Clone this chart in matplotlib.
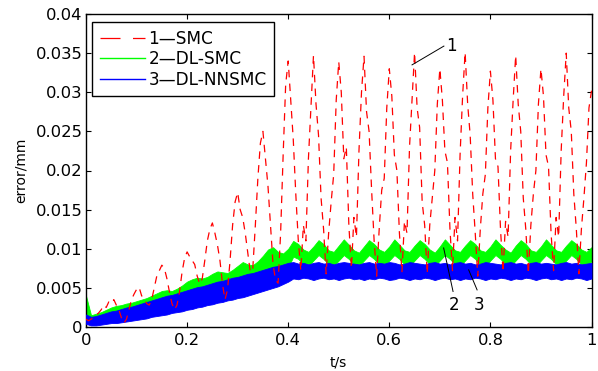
import numpy as np
import matplotlib
matplotlib.use("Agg")
import matplotlib.pyplot as plt
from matplotlib.lines import Line2D

plt.rcParams['font.family'] = ['DejaVu Sans']

# ---------------- data ----------------
series_names = ["1\u2014SMC", "2\u2014DL-SMC", "3\u2014DL-NNSMC"]

# envelope sample times for the dense (high-frequency) green / blue curves
t_env = np.round(np.arange(0, 1.0001, 0.01), 2)

green_hi = [0.0040, 0.0015, 0.0017, 0.0019, 0.0022, 0.0025, 0.0027, 0.0028, 0.0030, 0.0031, 0.0033,
            0.0035, 0.0037, 0.0040, 0.0043, 0.0046, 0.0047, 0.0046, 0.0049, 0.0053, 0.0058,
            0.0061, 0.0063, 0.0062, 0.0064, 0.0068, 0.0071, 0.0070, 0.0069, 0.0073, 0.0078,
            0.0083, 0.0080, 0.0079, 0.0084, 0.0091, 0.0099, 0.0102, 0.0096, 0.0094, 0.0100,
            0.0110,
            0.0106, 0.0099, 0.0096, 0.0103, 0.0111,
            0.0106, 0.0098, 0.0096, 0.0104, 0.0112,
            0.0105, 0.0098, 0.0095, 0.0103, 0.0111,
            0.0106, 0.0099, 0.0096, 0.0103, 0.0112,
            0.0105, 0.0098, 0.0096, 0.0104, 0.0111,
            0.0106, 0.0099, 0.0095, 0.0103, 0.0112,
            0.0105, 0.0098, 0.0096, 0.0104, 0.0111,
            0.0106, 0.0098, 0.0096, 0.0103, 0.0112,
            0.0105, 0.0099, 0.0095, 0.0104, 0.0111,
            0.0106, 0.0098, 0.0096, 0.0103, 0.0112,
            0.0105, 0.0098, 0.0096, 0.0104, 0.0111,
            0.0106, 0.0099, 0.0096, 0.0102]

green_lo = [0.0010, 0.0006, 0.0006, 0.0007, 0.0008, 0.0009, 0.0010, 0.0011, 0.0012, 0.0013, 0.0014,
            0.0015, 0.0016, 0.0018, 0.0019, 0.0021, 0.0022, 0.0023, 0.0025, 0.0027, 0.0029,
            0.0031, 0.0033, 0.0034, 0.0036, 0.0038, 0.0040, 0.0042, 0.0043, 0.0045, 0.0047,
            0.0049, 0.0051, 0.0053, 0.0055, 0.0058, 0.0062, 0.0066, 0.0068, 0.0070, 0.0076,
            0.0090,
            0.0087, 0.0080, 0.0078, 0.0085, 0.0092,
            0.0087, 0.0080, 0.0078, 0.0085, 0.0092,
            0.0087, 0.0080, 0.0078, 0.0085, 0.0092,
            0.0087, 0.0080, 0.0078, 0.0085, 0.0092,
            0.0087, 0.0080, 0.0078, 0.0085, 0.0092,
            0.0087, 0.0080, 0.0078, 0.0085, 0.0092,
            0.0087, 0.0080, 0.0078, 0.0085, 0.0092,
            0.0087, 0.0080, 0.0078, 0.0085, 0.0092,
            0.0087, 0.0080, 0.0078, 0.0085, 0.0092,
            0.0087, 0.0080, 0.0078, 0.0085, 0.0092,
            0.0087, 0.0080, 0.0078, 0.0085, 0.0092,
            0.0087, 0.0080, 0.0078, 0.0084]

blue_hi = [0.0016, 0.0013, 0.0014, 0.0016, 0.0018, 0.0020, 0.0021, 0.0023, 0.0025, 0.0026, 0.0028,
           0.0030, 0.0032, 0.0034, 0.0036, 0.0038, 0.0040, 0.0041, 0.0043, 0.0045, 0.0047,
           0.0049, 0.0051, 0.0052, 0.0054, 0.0056, 0.0058, 0.0059, 0.0061, 0.0063, 0.0064,
           0.0066, 0.0068, 0.0069, 0.0071, 0.0073, 0.0075, 0.0077, 0.0078, 0.0080, 0.0082,
           0.0083, 0.0081, 0.0082, 0.0080, 0.0082, 0.0083, 0.0081, 0.0082, 0.0080, 0.0082,
           0.0083, 0.0082, 0.0081, 0.0080, 0.0082, 0.0083, 0.0081, 0.0082, 0.0081, 0.0083,
           0.0082, 0.0080, 0.0081, 0.0083, 0.0082, 0.0081, 0.0080, 0.0082, 0.0083, 0.0081,
           0.0082, 0.0080, 0.0082, 0.0083, 0.0081, 0.0082, 0.0080, 0.0081, 0.0083, 0.0082,
           0.0081, 0.0080, 0.0082, 0.0083, 0.0081, 0.0082, 0.0080, 0.0082, 0.0083, 0.0081,
           0.0082, 0.0081, 0.0080, 0.0082, 0.0083, 0.0081, 0.0082, 0.0080, 0.0081, 0.0082]

blue_lo = [0.0004, 0.0002, 0.0002, 0.0003, 0.0004, 0.0005, 0.0005, 0.0006, 0.0007, 0.0008, 0.0009,
           0.0010, 0.0011, 0.0013, 0.0014, 0.0015, 0.0016, 0.0018, 0.0019, 0.0020, 0.0022,
           0.0023, 0.0025, 0.0026, 0.0028, 0.0029, 0.0031, 0.0032, 0.0034, 0.0035, 0.0037,
           0.0038, 0.0040, 0.0042, 0.0044, 0.0046, 0.0048, 0.0050, 0.0052, 0.0055, 0.0058,
           0.0062, 0.0061, 0.0063, 0.0062, 0.0060, 0.0062, 0.0063, 0.0061, 0.0062, 0.0060,
           0.0062, 0.0063, 0.0061, 0.0062, 0.0060, 0.0062, 0.0061, 0.0063, 0.0062, 0.0060,
           0.0061, 0.0063, 0.0062, 0.0060, 0.0062, 0.0061, 0.0063, 0.0062, 0.0060, 0.0062,
           0.0063, 0.0061, 0.0062, 0.0060, 0.0062, 0.0061, 0.0063, 0.0062, 0.0060, 0.0062,
           0.0061, 0.0063, 0.0062, 0.0060, 0.0062, 0.0061, 0.0063, 0.0062, 0.0060, 0.0062,
           0.0063, 0.0061, 0.0062, 0.0060, 0.0062, 0.0061, 0.0063, 0.0062, 0.0060, 0.0062]

# SMC error samples (every 0.005 s)
t_red = np.round(np.arange(0, 1.0001, 0.005), 3)
red = [0.0010, 0.0008, 0.0010, 0.0012, 0.0015, 0.0018, 0.0022, 0.0028, 0.0025, 0.0032,
       0.0030, 0.0035, 0.0028, 0.0022, 0.0012, 0.0005, 0.0010, 0.0022, 0.0035, 0.0042,
       0.0048, 0.0051, 0.0040, 0.0036, 0.0030, 0.0028, 0.0035, 0.0050, 0.0065, 0.0072,
       0.0079, 0.0075, 0.0062, 0.0045, 0.0030, 0.0022, 0.0028, 0.0045, 0.0070, 0.0088,
       0.0096, 0.0090, 0.0085, 0.0080, 0.0065, 0.0055, 0.0062, 0.0085, 0.0110, 0.0125,
       0.0133, 0.0120, 0.0105, 0.0085, 0.0055, 0.0035, 0.0048, 0.0085, 0.0130, 0.0160,
       0.0172, 0.0150, 0.0140, 0.0120, 0.0095, 0.0070, 0.0075, 0.0130, 0.0190, 0.0235,
       0.0250, 0.0215, 0.0180, 0.0130, 0.0080, 0.0060, 0.0056, 0.0120, 0.0220, 0.0310,
       0.0340, 0.0290, 0.0240, 0.0170, 0.0110, 0.0072, 0.0130, 0.0110, 0.0215, 0.0280,
       0.0347, 0.0285, 0.0245, 0.0165, 0.0125, 0.0068, 0.0120, 0.0160, 0.0195, 0.0290,
       0.0339, 0.0300, 0.0215, 0.0230, 0.0130, 0.0075, 0.0140, 0.0115, 0.0225, 0.0300,
       0.0346, 0.0275, 0.0250, 0.0175, 0.0110, 0.0065, 0.0125, 0.0175, 0.0190, 0.0280,
       0.0330, 0.0295, 0.0220, 0.0200, 0.0120, 0.0070, 0.0135, 0.0120, 0.0230, 0.0290,
       0.0351, 0.0280, 0.0255, 0.0160, 0.0130, 0.0068, 0.0130, 0.0165, 0.0200, 0.0285,
       0.0330, 0.0290, 0.0225, 0.0210, 0.0125, 0.0072, 0.0140, 0.0110, 0.0220, 0.0295,
       0.0351, 0.0285, 0.0245, 0.0170, 0.0120, 0.0065, 0.0125, 0.0170, 0.0195, 0.0280,
       0.0327, 0.0290, 0.0215, 0.0205, 0.0125, 0.0070, 0.0135, 0.0115, 0.0225, 0.0290,
       0.0347, 0.0285, 0.0250, 0.0165, 0.0125, 0.0068, 0.0130, 0.0170, 0.0200, 0.0285,
       0.0330, 0.0295, 0.0220, 0.0205, 0.0120, 0.0072, 0.0140, 0.0115, 0.0225, 0.0295,
       0.0350, 0.0280, 0.0250, 0.0170, 0.0125, 0.0068, 0.0125, 0.0165, 0.0210, 0.0280,
       0.0302]

x_ticks = [0, 0.2, 0.4, 0.6, 0.8, 1.0]
x_tick_labels = ["0", "0.2", "0.4", "0.6", "0.8", "1"]
y_ticks = [0, 0.005, 0.01, 0.015, 0.02, 0.025, 0.03, 0.035, 0.04]
y_tick_labels = ["0", "0.005", "0.01", "0.015", "0.02", "0.025", "0.03", "0.035", "0.04"]

# ---------------- figure ----------------
fig = plt.figure(figsize=(5.98, 3.71), dpi=100)
ax = fig.add_axes([86 / 598, 1 - 327 / 371, 505.5 / 598, 313 / 371])

RED, GREEN, BLUE = "#ff0000", "#00ff00", "#0000ff"

ax.fill_between(t_env, green_lo, green_hi, color=GREEN, linewidth=0.6, edgecolor=GREEN, zorder=2)
ax.fill_between(t_env, blue_lo, blue_hi, color=BLUE, linewidth=0.6, edgecolor=BLUE, zorder=3)
ax.plot(t_red, red, color=RED, linewidth=0.9, linestyle=(0, (6, 5)), zorder=4)

ax.set_xlim(0, 1)
ax.set_ylim(0, 0.04)
ax.set_xticks(x_ticks)
ax.set_xticklabels(x_tick_labels)
ax.set_yticks(y_ticks)
ax.set_yticklabels(y_tick_labels)
ax.tick_params(direction="in", length=3.6, width=0.8, top=True, right=True,
               labelsize=11.8, pad=4)
ax.tick_params(axis="y", pad=2.5)
for s in ax.spines.values():
    s.set_linewidth(1.0)

ax.set_xlabel("t/s", fontsize=10, va="center")
ax.set_ylabel("error/mm", fontsize=10, va="center")
ax.xaxis.set_label_coords(0.5, -(363 - 327) / 313)
ax.yaxis.set_label_coords(-(86 - 21) / 505.5, 0.5)

handles = [Line2D([], [], color=RED, linewidth=0.9, linestyle=(0, (16, 10))),
           Line2D([], [], color=GREEN, linewidth=1.0),
           Line2D([], [], color=BLUE, linewidth=1.0)]
leg = ax.legend(handles, series_names, loc="upper left", bbox_to_anchor=(0.012, 0.974),
                borderaxespad=0, fontsize=12.2, fancybox=False, framealpha=1,
                edgecolor="black", handlelength=2.65, handletextpad=0.22,
                labelspacing=0.15, borderpad=0.45)
leg.get_frame().set_linewidth(1.0)

# curve labels
ax.plot([0.645, 0.708], [0.0335, 0.0359], color="black", linewidth=0.7, zorder=5)
ax.text(0.722, 0.0359, "1", fontsize=12, ha="center", va="center", zorder=5)
ax.plot([0.7075, 0.7261], [0.0101, 0.00454], color="black", linewidth=0.7, zorder=5)
ax.text(0.7274, 0.0028, "2", fontsize=12, ha="center", va="center", zorder=5)
ax.plot([0.757, 0.7737], [0.0073, 0.00474], color="black", linewidth=0.7, zorder=5)
ax.text(0.7768, 0.0028, "3", fontsize=12, ha="center", va="center", zorder=5)

fig.savefig("out.png", dpi=100)
